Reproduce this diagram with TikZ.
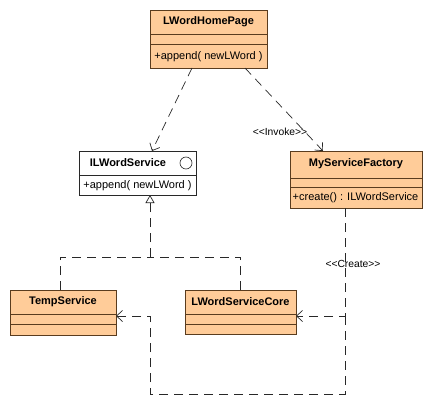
\documentclass[tikz,border=0pt]{standalone}
\usepackage{fontspec}
\setmainfont{Liberation Sans}
\usetikzlibrary{arrows.meta,calc}
\definecolor{clsfill}{RGB}{255,204,153}
\definecolor{clsdraw}{RGB}{90,60,30}
\definecolor{ln}{RGB}{40,40,40}
\tikzset{
  cls/.style={draw=clsdraw, fill=clsfill, line width=0.8pt, anchor=north west, inner sep=0pt},
  iface/.style={draw=ln, fill=white, line width=0.8pt, anchor=north west, inner sep=0pt},
  sep/.style={draw=clsdraw, line width=0.8pt},
  isep/.style={draw=ln, line width=0.8pt},
  cname/.style={font=\fontsize{11}{13}\selectfont\bfseries, inner sep=0pt},
  cop/.style={font=\fontsize{11}{13}\selectfont, inner sep=0pt},
  stereo/.style={font=\fontsize{10.3}{12}\selectfont, inner sep=0pt},
  dep/.style={draw=ln, line width=0.7pt, dash pattern=on 9pt off 6pt, -{Straight Barb[length=6pt,width=11pt]}},
  real/.style={draw=ln, line width=0.7pt, dash pattern=on 9pt off 6pt},
  realtip/.style={draw=ln, line width=0.7pt, dash pattern=on 9pt off 6pt, -{Triangle[open,fill=white,length=8pt,width=9pt]}}
}
\begin{document}
\begin{tikzpicture}[x=1pt,y=-1pt]
\useasboundingbox (0,0) rectangle (431,404);
% LWordHomePage
\node[cls, minimum width=117pt, minimum height=58pt] (home) at (150,10) {};
\draw[sep] (150,34) -- (267,34);
\draw[sep] (150,44) -- (267,44);
\node[cname] (homen) at (208.5,22) {LWordHomePage};
\node[cop] (homem) at (208.5,56.5) {+append( newLWord )};
% ILWordService
\node[iface, minimum width=117pt, minimum height=44pt] (ils) at (79,151) {};
\draw[isep] (79,175) -- (196,175);
\node[cname] (ilsn) at (128,163) {ILWordService};
\node[draw=ln, line width=0.6pt, circle, minimum size=12pt, inner sep=0pt] (ilsc) at (186,163) {};
\node[cop] (ilsm) at (137.5,185.5) {+append( newLWord )};
% MyServiceFactory
\node[cls, minimum width=132pt, minimum height=57pt] (fac) at (290,151) {};
\draw[sep] (290,178) -- (422,178);
\draw[sep] (290,187) -- (422,187);
\node[cname] (facn) at (356,164) {MyServiceFactory};
\node[cop] (facm) at (355.5,197.5) {+create() : ILWordService};
% TempService
\node[cls, minimum width=106pt, minimum height=45pt] (temp) at (10,290) {};
\draw[sep] (10,314) -- (116,314);
\draw[sep] (10,324) -- (116,324);
\node[cname] (tempn) at (63,302) {TempService};
% LWordServiceCore
\node[cls, minimum width=111pt, minimum height=44pt] (core) at (185,290) {};
\draw[sep] (185,314) -- (296,314);
\draw[sep] (185,324) -- (296,324);
\node[cname] (coren) at (240.5,302) {LWordServiceCore};
% connector coordinates
\coordinate (h1) at (192,68);
\coordinate (h2) at (245,68);
\coordinate (i1) at (152,151);
\coordinate (f1) at (323,151);
\coordinate (rt) at (150,195);
\coordinate (rj) at (150,257);
\coordinate (ta) at (60,290);
\coordinate (ca) at (240.5,290);
\coordinate (fb) at (345,208);
\coordinate (cj) at (345,316);
\coordinate (ce) at (296,316);
\coordinate (te) at (116,316);
% dependencies
\draw[dep] (h1) -- (i1);
\draw[dep] (h2) -- (f1);
\node[stereo] (inv) at (280,132) {<{}<Invoke>{}>};
% realizations
\draw[real] (ta) -- (ta |- rj) -- (rj);
\draw[real] (ca) -- (ca |- rj) -- (rj);
\draw[realtip] (rj) -- (rt);
% create
\draw[dep] (fb) -- (cj) -- (ce);
\draw[dep] (cj) -- (345,394) -- (150,394) -- (150,316) -- (te);
\node[stereo] (cre) at (353,264) {<{}<Create>{}>};
\end{tikzpicture}
\end{document}
